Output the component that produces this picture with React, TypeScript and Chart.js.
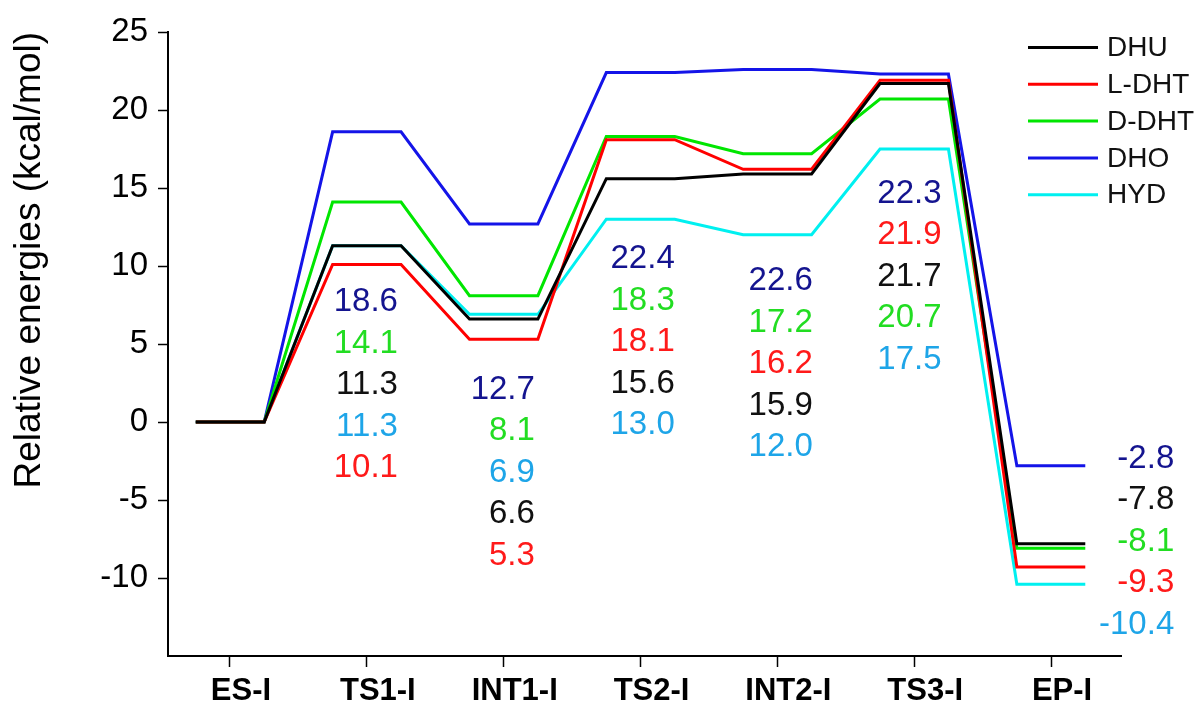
import React, { useEffect, useRef } from 'react';
import { Chart, registerables } from 'chart.js';

Chart.register(...registerables);

// ---------- data ----------
const states = ['ES-I', 'TS1-I', 'INT1-I', 'TS2-I', 'INT2-I', 'TS3-I', 'EP-I'];
const seriesNames = ['DHU', 'L-DHT', 'D-DHT', 'DHO', 'HYD'];
const DHU = [0, 11.3, 6.6, 15.6, 15.9, 21.7, -7.8];
const L_DHT = [0, 10.1, 5.3, 18.1, 16.2, 21.9, -9.3];
const D_DHT = [0, 14.1, 8.1, 18.3, 17.2, 20.7, -8.1];
const DHO = [0, 18.6, 12.7, 22.4, 22.6, 22.3, -2.8];
const HYD = [0, 11.3, 6.9, 13.0, 12.0, 17.5, -10.4];
const yTicks = [-10, -5, 0, 5, 10, 15, 20, 25];
// order of the value labels under each state (series indices, top to bottom)
const labelOrder = [[], [3, 2, 0, 4, 1], [3, 2, 4, 0, 1], [3, 2, 1, 0, 4], [3, 2, 1, 0, 4], [3, 1, 0, 2, 4], [3, 0, 2, 1, 4]];

const seriesValues = [DHU, L_DHT, D_DHT, DHO, HYD];

// ---------- styles / layout ----------
const FAMILY = '"Liberation Sans", Arial, sans-serif';
const lineColors = ['#000000', '#ff0000', '#00e600', '#1414e8', '#00f0f0'];
const textColors = ['#111111', '#ff1a1a', '#22dd22', '#14148f', '#1ea5e8'];
const halfWidth = 0.25; // half length of a state's level, in category units
const labelDx = [0, 0.227, 0.228, 0.25, 0.259, 0.2, 0.9]; // right edge of label column
const labelTopY = [0, 7.68, 2.08, 10.45, 9.03, 14.63, -2.36]; // y value of first label
const labelStep = 2.66;

const valueLabelPlugin = {
  id: 'valueLabels',
  afterDatasetsDraw(chart: any) {
    const { ctx, scales } = chart;
    const xs = scales.x;
    const ys = scales.y;
    ctx.save();
    ctx.font = `33px ${FAMILY}`;
    ctx.textAlign = 'right';
    ctx.textBaseline = 'middle';
    labelOrder.forEach((order, c) => {
      order.forEach((s, r) => {
        const v = seriesValues[s][c];
        const x = xs.getPixelForValue(c + 1 + labelDx[c]);
        const y = ys.getPixelForValue(labelTopY[c] - r * labelStep);
        ctx.fillStyle = textColors[s];
        ctx.fillText(v.toFixed(1), x, y);
      });
    });
    ctx.restore();
  },
};

const legendPlugin = {
  id: 'customLegend',
  afterDraw(chart: any) {
    const { ctx, chartArea } = chart;
    ctx.save();
    ctx.font = `28px ${FAMILY}`;
    ctx.textAlign = 'left';
    ctx.textBaseline = 'middle';
    seriesNames.forEach((name, i) => {
      const y = chartArea.top + 15.5 + i * 36.8;
      ctx.strokeStyle = lineColors[i];
      ctx.lineWidth = 3;
      ctx.beginPath();
      ctx.moveTo(chartArea.right - 93, y);
      ctx.lineTo(chartArea.right - 23, y);
      ctx.stroke();
      ctx.fillStyle = '#111';
      ctx.fillText(name, chartArea.right - 14, y + 1);
    });
    ctx.restore();
  },
};

export default function App() {
  const ref = useRef<HTMLCanvasElement | null>(null);
  useEffect(() => {
    if (!ref.current) return;
    Chart.defaults.font.family = FAMILY;
    const datasets = seriesNames.map((name, s) => ({
      label: name,
      data: seriesValues[s].flatMap((v, i) => [
        { x: i + 1 - halfWidth, y: v },
        { x: i + 1 + halfWidth, y: v },
      ]),
      borderColor: lineColors[s],
      backgroundColor: lineColors[s],
      borderWidth: 3,
      pointRadius: 0,
      tension: 0,
      fill: false,
    }));
    const chart = new Chart(ref.current, {
      type: 'line',
      data: { datasets },
      options: {
        animation: false,
        responsive: false,
        maintainAspectRatio: false,
        layout: { padding: { left: 0, right: 82, top: 32, bottom: 0 } },
        plugins: { legend: { display: false }, tooltip: { enabled: false } },
        scales: {
          x: {
            type: 'linear',
            min: 0.547,
            max: 7.511,
            afterBuildTicks: (s: any) => {
              s.ticks = states.map((_, i) => ({ value: i + 1 }));
            },
            afterFit: (s: any) => {
              s.height = 57;
            },
            grid: { drawOnChartArea: false, drawTicks: true, tickLength: 11, tickColor: '#000', tickWidth: 1.5 },
            border: { display: true, color: '#000', width: 2 },
            ticks: {
              callback: (v: any) => states[Math.round(v) - 1] ?? '',
              color: '#000',
              font: { family: FAMILY, size: 31, weight: 'bold' },
              padding: 6,
              labelOffset: 11,
              maxRotation: 0,
              autoSkip: false,
            },
          },
          y: {
            type: 'linear',
            min: -15,
            max: 25,
            afterBuildTicks: (s: any) => {
              s.ticks = yTicks.map((v) => ({ value: v }));
            },
            afterFit: (s: any) => {
              s.width = 168;
            },
            grid: { drawOnChartArea: false, drawTicks: true, tickLength: 10, tickColor: '#000', tickWidth: 1.5 },
            border: { display: true, color: '#000', width: 2 },
            ticks: {
              callback: (v: any) => String(v),
              color: '#000',
              font: { family: FAMILY, size: 33 },
              padding: 10,
            },
            title: {
              display: true,
              text: 'Relative energies (kcal/mol)',
              align: 'end',
              color: '#000',
              font: { family: FAMILY, size: 37 },
              padding: { top: 8, bottom: 0 },
            },
          },
        },
      },
      plugins: [valueLabelPlugin, legendPlugin],
    } as any);
    return () => chart.destroy();
  }, []);
  return (
    <div style={{ position: 'fixed', left: 0, top: 0, width: 1203, height: 713, background: '#fff' }}>
      <canvas ref={ref} width={1203} height={713} style={{ display: 'block' }} />
    </div>
  );
}
